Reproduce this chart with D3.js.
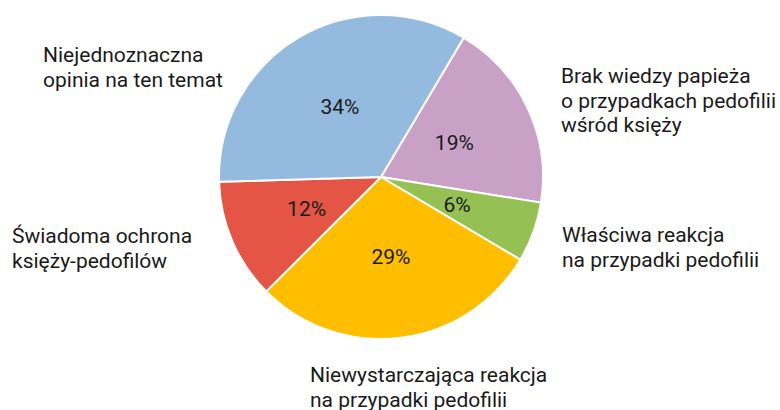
<!DOCTYPE html>
<html>
<head>
<meta charset="utf-8">
<script src="https://cdn.jsdelivr.net/npm/d3@7"></script>
<style>
  body { margin: 0; background: #fff; }
  text { font-family: Roboto, "Noto Sans", sans-serif; fill: #1a1a1a; }
</style>
</head>
<body>
<script>
// data
const categories = [
    "Brak wiedzy papieża o przypadkach pedofilii wśród księży",
    "Właściwa reakcja na przypadki pedofilii",
    "Niewystarczająca reakcja na przypadki pedofilii",
    "Świadoma ochrona księży-pedofilów",
    "Niejednoznaczna opinia na ten temat"
];
const values = [19, 6, 29, 12, 34];
const colors = ["#c9a1c7", "#94c054", "#ffbf00", "#e45545", "#94badf"];

// outside label lines
const labelLines = [
    ["Brak wiedzy papieża", "o przypadkach pedofilii", "wśród księży"],
    ["Właściwa reakcja", "na przypadki pedofilii"],
    ["Niewystarczająca reakcja", "na przypadki pedofilii"],
    ["Świadoma ochrona", "księży-pedofilów"],
    ["Niejednoznaczna", "opinia na ten temat"]
];
const labelPos = [[561, 83], [562, 242], [310, 382], [12, 243], [43, 62]];

const width = 780;
const height = 410;
const cx = 381, cy = 177, radius = 162;

const svg = d3.select("body")
    .append("svg")
    .attr("width", width)
    .attr("height", height);

const data = categories.map((c, i) => ({ name: c, value: values[i], color: colors[i] }));

const pie = d3.pie()
    .value(d => d.value)
    .sort(null)
    .startAngle(30.7 * Math.PI / 180)
    .endAngle(30.7 * Math.PI / 180 + 2 * Math.PI);

const arc = d3.arc().innerRadius(0).outerRadius(radius);

const g = svg.append("g").attr("transform", `translate(${cx},${cy})`);

// slices
g.selectAll("path")
    .data(pie(data))
    .enter()
    .append("path")
    .attr("d", arc)
    .attr("fill", d => d.data.color)
    .attr("stroke", "#fff")
    .attr("stroke-width", 2)
    .attr("stroke-linejoin", "round");

// percent labels
g.selectAll("text.pct")
    .data(pie(data))
    .enter()
    .append("text")
    .attr("class", "pct")
    .attr("x", d => arc.centroid(d)[0])
    .attr("y", d => arc.centroid(d)[1])
    .attr("text-anchor", "middle")
    .attr("dominant-baseline", "central")
    .style("font-size", "21px")
    .text(d => d.data.value + "%");

// category labels
labelLines.forEach((lines, i) => {
    const t = svg.append("text")
        .attr("x", labelPos[i][0])
        .attr("y", labelPos[i][1])
        .style("font-size", "21px");
    lines.forEach((line, j) => {
        t.append("tspan")
            .attr("x", labelPos[i][0])
            .attr("dy", j === 0 ? 0 : 24.5)
            .text(line);
    });
});
</script>
</body>
</html>
